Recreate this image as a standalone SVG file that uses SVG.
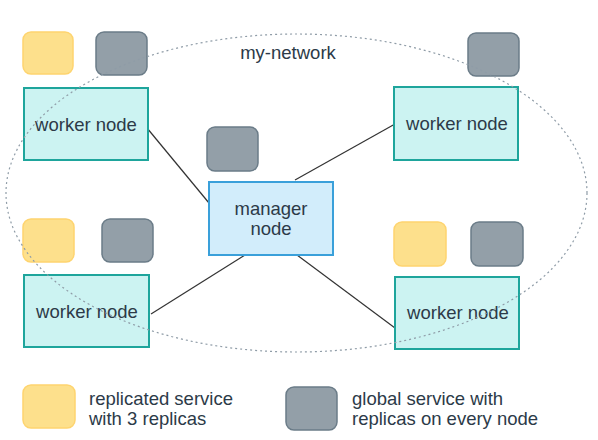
<svg xmlns="http://www.w3.org/2000/svg" width="598" height="440" viewBox="0 0 598 440">
<style>
text{font-family:"Liberation Sans",Arial,sans-serif;font-size:18.5px;fill:#2c3a48}
.rep{fill:#fde08c;stroke:#fed46f;stroke-width:1.5}
.glob{fill:#939fa8;stroke:#6b7c88;stroke-width:1.5}
.worker{fill:#ccf3f2;stroke:#1ea59c;stroke-width:2}
.mgr{fill:#d2edfb;stroke:#3aa0da;stroke-width:2}
.link{stroke:#333;stroke-width:1.2;fill:none}
.net{fill:none;stroke:#8f9ca7;stroke-width:1.2;stroke-dasharray:2 3}
</style>
<rect width="598" height="440" fill="#fff"/>
<g id="connectors">
<line class="link" x1="147" y1="128" x2="209" y2="203"/>
<line class="link" x1="295" y1="180" x2="395" y2="124"/>
<line class="link" x1="245" y1="255" x2="151" y2="314"/>
<line class="link" x1="297" y1="255" x2="395" y2="328"/>
</g>
<g id="worker-tl">
<rect class="rep" x="23" y="32" width="50" height="42" rx="8"/>
<rect class="glob" x="96" y="32" width="51" height="43" rx="8"/>
<rect class="worker" x="24" y="88" width="124" height="72"/>
<text x="86" y="131" text-anchor="middle">worker node</text>
</g>
<g id="worker-tr">
<rect class="glob" x="468" y="33" width="51" height="43" rx="8"/>
<rect class="worker" x="394" y="87" width="124" height="73"/>
<text x="457" y="130" text-anchor="middle">worker node</text>
</g>
<g id="manager">
<rect class="glob" x="207" y="127" width="51" height="44" rx="8"/>
<rect class="mgr" x="209" y="182" width="124" height="73"/>
<text x="271" y="215" text-anchor="middle">manager</text>
<text x="271" y="235" text-anchor="middle">node</text>
</g>
<g id="worker-bl">
<rect class="rep" x="23" y="219" width="51" height="43" rx="8"/>
<rect class="glob" x="102" y="219" width="51" height="43" rx="8"/>
<rect class="worker" x="24" y="275" width="125" height="72"/>
<text x="87" y="318" text-anchor="middle">worker node</text>
</g>
<g id="worker-br">
<rect class="rep" x="394" y="222" width="52" height="44" rx="8"/>
<rect class="glob" x="471" y="222" width="52" height="44" rx="8"/>
<rect class="worker" x="395" y="277" width="124" height="72"/>
<text x="458" y="319" text-anchor="middle">worker node</text>
</g>
<g id="my-network">
<ellipse class="net" cx="296.5" cy="193" rx="290.5" ry="159"/>
<text x="288" y="59" text-anchor="middle">my-network</text>
</g>
<g id="legend">
<rect class="rep" x="23" y="385" width="52" height="43" rx="8"/>
<text x="89" y="405">replicated service</text>
<text x="89" y="425">with 3 replicas</text>
<rect class="glob" x="286" y="387" width="51" height="43" rx="8"/>
<text x="352" y="405">global service with</text>
<text x="352" y="425">replicas on every node</text>
</g>
</svg>
